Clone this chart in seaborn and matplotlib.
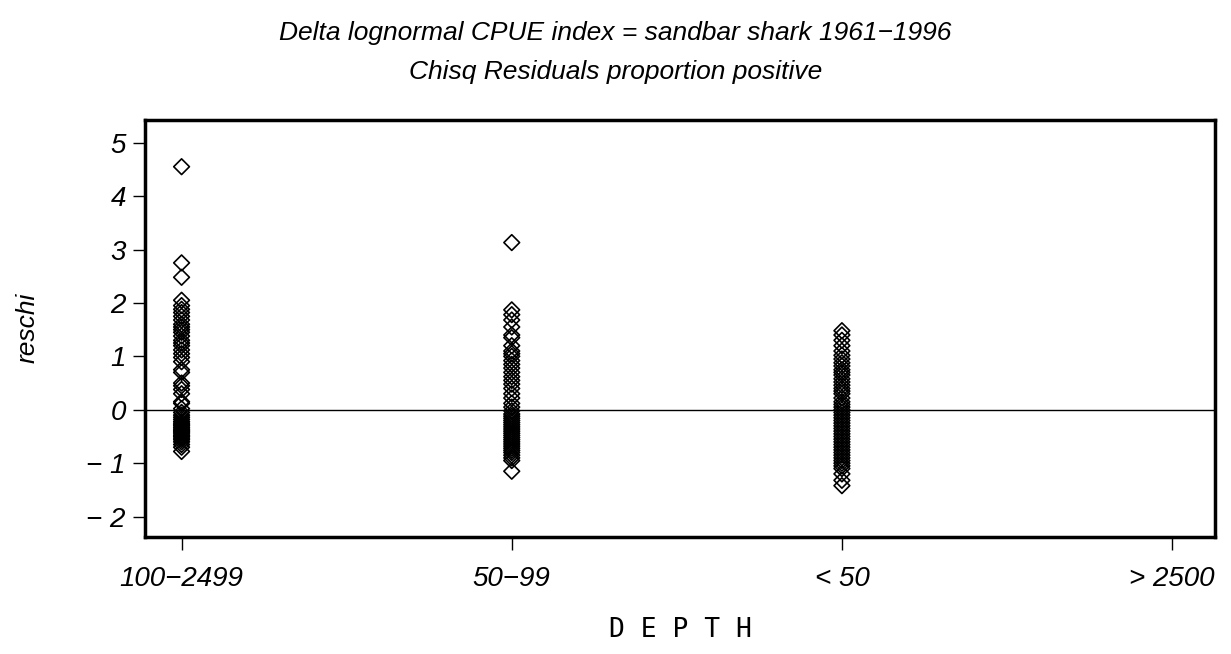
import numpy as np
import pandas as pd
import matplotlib
matplotlib.use("Agg")
import matplotlib.pyplot as plt
import seaborn as sns

depth_order = ["100\u22122499", "50\u221299", "< 50", "> 2500"]

res_100_2499 = [4.55, 2.75, 2.48, 2.05, 1.95, 1.88, 1.82, 1.75, 1.68, 1.6, 1.55, 1.5, 1.45,
                1.38, 1.3, 1.25, 1.2, 1.12, 1.05, 0.98, 0.9, 0.75, 0.7, 0.5, 0.45, 0.38,
                0.3, 0.15, 0.12, 0.02, -0.05, -0.1, -0.14, -0.18, -0.22, -0.25, -0.28,
                -0.3, -0.33, -0.36, -0.38, -0.4, -0.42, -0.45, -0.48, -0.5, -0.53, -0.56,
                -0.6, -0.65, -0.7, -0.78]
res_50_99 = [3.13, 1.87, 1.78, 1.68, 1.55, 1.4, 1.35, 1.2, 1.1, 1.05, 1.0, 0.92, 0.85,
             0.78, 0.7, 0.62, 0.55, 0.48, 0.4, 0.3, 0.22, 0.12, 0.05, -0.02, -0.08, -0.12,
             -0.16, -0.2, -0.24, -0.28, -0.32, -0.36, -0.4, -0.44, -0.48, -0.52, -0.56,
             -0.6, -0.64, -0.68, -0.72, -0.76, -0.8, -0.85, -0.9, -0.95, -1.15]
res_lt50 = [1.48, 1.4, 1.3, 1.2, 1.1, 1.02, 0.95, 0.88, 0.82, 0.75, 0.7, 0.65, 0.58, 0.52,
            0.46, 0.4, 0.35, 0.3, 0.22, 0.15, 0.1, 0.05, 0.0, -0.05, -0.1, -0.15, -0.2,
            -0.25, -0.3, -0.35, -0.4, -0.45, -0.5, -0.55, -0.6, -0.65, -0.7, -0.75, -0.8,
            -0.85, -0.9, -0.95, -1.0, -1.05, -1.1, -1.2, -1.32, -1.42]

df = pd.DataFrame({
    "DEPTH": [depth_order[0]] * len(res_100_2499) + [depth_order[1]] * len(res_50_99)
             + [depth_order[2]] * len(res_lt50),
    "reschi": res_100_2499 + res_50_99 + res_lt50,
})

sns.set_style("ticks")
plt.rcParams["font.family"] = ["Liberation Sans", "DejaVu Sans"]
plt.rcParams["text.color"] = "black"
plt.rcParams["xtick.color"] = "black"
plt.rcParams["ytick.color"] = "black"
plt.rcParams["axes.labelcolor"] = "black"

fig = plt.figure(figsize=(12.31, 6.54), dpi=100)
ax = fig.add_axes([0.118, 0.179, 0.869, 0.638])

sns.stripplot(data=df, x="DEPTH", y="reschi", order=depth_order, jitter=False,
              marker="D", size=8, color="black", linewidth=1.2, ax=ax)
for coll in ax.collections:
    coll.set_facecolor("none")
    coll.set_edgecolor("black")

ax.axhline(0, color="black", lw=1)
ax.set_xlim(-0.11, 3.13)
ax.set_ylim(-2.38, 5.43)
ax.set_yticks(range(-2, 6))
ax.set_yticklabels([str(v).replace("-", "\u2212 ") for v in range(-2, 6)])

for s in ax.spines.values():
    s.set_visible(True)
    s.set_linewidth(2.5)
    s.set_color("black")
ax.tick_params(axis="both", direction="out", length=9, width=1, color="black",
               labelsize=20, pad=5, bottom=True, left=True, top=False, right=False)
ax.tick_params(axis="x", pad=12)
for t in ax.get_xticklabels() + ax.get_yticklabels():
    t.set_style("italic")

ax.set_xlabel("D E P T H", fontsize=19, fontfamily="DejaVu Sans Mono", labelpad=18)
ax.set_ylabel("reschi", fontsize=19, style="italic", labelpad=34)

fig.text(0.5, 0.95, "Delta lognormal CPUE index = sandbar shark 1961\u22121996",
         ha="center", va="center", fontsize=19, style="italic")
fig.text(0.5, 0.89, "Chisq Residuals proportion positive",
         ha="center", va="center", fontsize=19, style="italic")

fig.savefig("out.png", dpi=100)
